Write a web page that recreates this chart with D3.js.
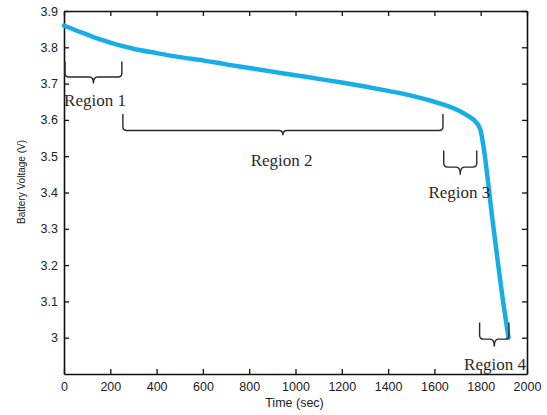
<!DOCTYPE html>
<html>
<head>
<meta charset="utf-8">
<script src="https://cdn.jsdelivr.net/npm/d3@7"></script>
<style>
  body { margin: 0; background: #fff; }
  svg { display: block; }
</style>
</head>
<body>
<script>
// discharge curve
var timeSec = [0, 50, 100, 150, 200, 250, 300, 400, 500, 600, 700, 800, 900, 1000, 1100, 1200, 1300, 1400, 1500, 1600, 1650, 1700, 1740, 1770, 1790, 1800, 1810, 1850, 1900, 1920];
var voltage = [3.860, 3.847, 3.835, 3.823, 3.813, 3.804, 3.796, 3.784, 3.773, 3.764, 3.753, 3.743, 3.733, 3.723, 3.713, 3.703, 3.692, 3.680, 3.667, 3.650, 3.640, 3.627, 3.613, 3.600, 3.585, 3.570, 3.535, 3.330, 3.085, 3.000];

var xTicks = [0, 200, 400, 600, 800, 1000, 1200, 1400, 1600, 1800, 2000];
var yTicks = [3.0, 3.1, 3.2, 3.3, 3.4, 3.5, 3.6, 3.7, 3.8, 3.9];

// region braces: [from, to] in seconds, top / bar / tip in volts
var regionNames = ["Region 1", "Region 2", "Region 3", "Region 4"];
var regionSpan = [[0, 250], [250, 1637], [1636, 1783], [1791, 1922]];
var regionY = [[3.761, 3.718, 3.700], [3.616, 3.571, 3.558], [3.516, 3.470, 3.449], [3.042, 2.996, 2.976]];
// label centre (sec) and baseline (volts)
var labelAt = [[134, 3.638], [940, 3.472], [1708, 3.384], [1862, 2.912]];

var W = 547, H = 415;
var svg = d3.select("body").append("svg")
    .attr("width", W)
    .attr("height", H);

var x = d3.scaleLinear().domain([0, 2000]).range([64, 527]);
var y = d3.scaleLinear().domain([2.9, 3.9]).range([374, 11]);

var sans = "'Liberation Sans', Arial, Helvetica, sans-serif";
var serif = "'Liberation Serif', 'Times New Roman', serif";

// axes, ticks pointing inward
function styleAxis(g) {
  g.selectAll("path.domain").attr("stroke", "#111").attr("stroke-width", 1.6);
  g.selectAll(".tick line").attr("stroke", "#111").attr("stroke-width", 1.3);
  g.selectAll(".tick text").attr("fill", "#222").style("font-family", sans).style("font-size", "12.5px");
}

svg.append("g")
    .attr("transform", "translate(0," + y(2.9) + ")")
    .call(d3.axisBottom(x).tickValues(xTicks).tickSize(-5).tickSizeOuter(0).tickPadding(10).tickFormat(d3.format("d")))
    .call(styleAxis)
    .selectAll(".tick text").attr("dy", "0.71em").attr("y", 8);

svg.append("g")
    .attr("transform", "translate(0," + y(3.9) + ")")
    .call(d3.axisTop(x).tickValues(xTicks).tickSize(-5).tickSizeOuter(0).tickFormat(""))
    .call(styleAxis);

svg.append("g")
    .attr("transform", "translate(" + x(0) + ",0)")
    .call(d3.axisLeft(y).tickValues(yTicks).tickSize(-5).tickSizeOuter(0).tickPadding(6).tickFormat(d3.format("")))
    .call(styleAxis);

svg.append("g")
    .attr("transform", "translate(" + x(2000) + ",0)")
    .call(d3.axisRight(y).tickValues(yTicks).tickSize(-5).tickSizeOuter(0).tickFormat(""))
    .call(styleAxis);

// axis titles
svg.append("text")
    .attr("x", (x(0) + x(2000)) / 2 - 1)
    .attr("y", 407)
    .attr("text-anchor", "middle")
    .style("font-family", sans)
    .style("font-size", "12.5px")
    .attr("fill", "#222")
    .text("Time (sec)");

svg.append("text")
    .attr("transform", "translate(25,182) rotate(-90)")
    .attr("text-anchor", "middle")
    .style("font-family", sans)
    .style("font-size", "10px")
    .attr("fill", "#222")
    .text("Battery Voltage (V)");

// the curve
var pts = timeSec.map(function(t, i) { return [t, voltage[i]]; });
var line = d3.line()
    .x(function(d) { return x(d[0]); })
    .y(function(d) { return y(d[1]); })
    .curve(d3.curveMonotoneX);

svg.append("path")
    .datum(pts)
    .attr("d", line)
    .attr("fill", "none")
    .attr("stroke", "#17aee8")
    .attr("stroke-width", 4.5)
    .attr("stroke-linejoin", "round")
    .attr("stroke-linecap", "round");

// curly braces
function brace(x0, x1, yTop, yBar, yTip) {
  var r = 4, xc = (x0 + x1) / 2, p = d3.path();
  p.moveTo(x0, yTop);
  p.lineTo(x0, yBar - r);
  p.quadraticCurveTo(x0, yBar, x0 + r, yBar);
  p.lineTo(xc - r, yBar);
  p.quadraticCurveTo(xc, yBar, xc, yTip);
  p.quadraticCurveTo(xc, yBar, xc + r, yBar);
  p.lineTo(x1 - r, yBar);
  p.quadraticCurveTo(x1, yBar, x1, yBar - r);
  p.lineTo(x1, yTop);
  return p.toString();
}

regionNames.forEach(function(name, i) {
  svg.append("path")
      .attr("d", brace(x(regionSpan[i][0]) + 1, x(regionSpan[i][1]),
                       y(regionY[i][0]), y(regionY[i][1]), y(regionY[i][2])))
      .attr("fill", "none")
      .attr("stroke", "#2a2a2a")
      .attr("stroke-width", 1.4);

  svg.append("text")
      .attr("x", x(labelAt[i][0]))
      .attr("y", y(labelAt[i][1]))
      .attr("text-anchor", "middle")
      .style("font-family", serif)
      .style("font-size", "17px")
      .attr("fill", "#2a2a2a")
      .text(name);
});
</script>
</body>
</html>
